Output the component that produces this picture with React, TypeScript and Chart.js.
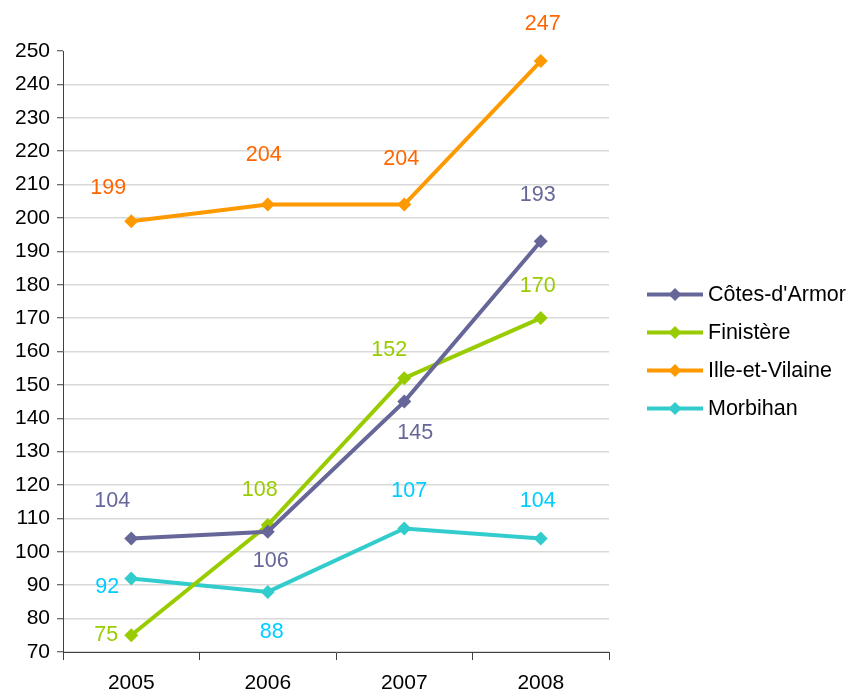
import React, { useEffect, useRef } from "react";
import { Chart, registerables } from "chart.js";

Chart.register(...registerables);

const YEARS = ["2005", "2006", "2007", "2008"];
const COTES_DARMOR = [104, 106, 145, 193];
const FINISTERE = [75, 108, 152, 170];
const ILLE_ET_VILAINE = [199, 204, 204, 247];
const MORBIHAN = [92, 88, 107, 104];
const SERIES_NAMES = ["Côtes-d'Armor", "Finistère", "Ille-et-Vilaine", "Morbihan"];
const Y_MIN = 70;
const Y_MAX = 250;
const Y_STEP = 10;

// style
const LINE_COLORS = ["#666699", "#99CC00", "#FF9900", "#33CCCC"];
const LABEL_COLORS = ["#666699", "#99CC00", "#FF6600", "#00CCFF"];
// label offsets relative to point (px) per series / point
const LABEL_OFFSETS: number[][][] = [
  [[-19, -37], [3, 29], [11, 31], [-3, -46]],
  [[-25, 0], [-8, -35], [-15, -28], [-3, -32]],
  [[-23, -33], [-4, -50], [-3, -46], [2, -37]],
  [[-24, 9], [4, 40], [5, -37], [-3, -37]],
];
const FONT = "'Liberation Sans', Arial, sans-serif";

const labelsPlugin = {
  id: "pointLabels",
  afterDatasetsDraw(chart: any) {
    const ctx = chart.ctx;
    ctx.save();
    ctx.font = `21.5px ${FONT}`;
    ctx.textAlign = "center";
    ctx.textBaseline = "middle";
    chart.data.datasets.forEach((ds: any, i: number) => {
      const meta = chart.getDatasetMeta(i);
      meta.data.forEach((pt: any, j: number) => {
        const off = LABEL_OFFSETS[i][j];
        ctx.fillStyle = LABEL_COLORS[i];
        ctx.fillText(String(ds.data[j]), pt.x + off[0], pt.y + off[1]);
      });
    });
    ctx.restore();
  },
};

const legendPlugin = {
  id: "customLegend",
  afterDraw(chart: any) {
    const ctx = chart.ctx;
    const area = chart.chartArea;
    const n = chart.data.datasets.length;
    const rowH = 38;
    const cy = (area.top + area.bottom) / 2;
    const startY = cy - ((n - 1) * rowH) / 2;
    const x0 = area.right + 38;
    const lineLen = 56;
    ctx.save();
    ctx.font = `21.5px ${FONT}`;
    ctx.textBaseline = "middle";
    ctx.textAlign = "left";
    chart.data.datasets.forEach((ds: any, i: number) => {
      const y = startY + i * rowH;
      ctx.strokeStyle = ds.borderColor;
      ctx.lineWidth = 4;
      ctx.beginPath();
      ctx.moveTo(x0, y);
      ctx.lineTo(x0 + lineLen, y);
      ctx.stroke();
      const mx = x0 + lineLen / 2;
      const r = 6.5;
      ctx.fillStyle = ds.borderColor;
      ctx.beginPath();
      ctx.moveTo(mx, y - r);
      ctx.lineTo(mx + r, y);
      ctx.lineTo(mx, y + r);
      ctx.lineTo(mx - r, y);
      ctx.closePath();
      ctx.fill();
      ctx.fillStyle = "#000000";
      ctx.fillText(ds.label, x0 + lineLen + 5, y + 1);
    });
    ctx.restore();
  },
};

export default function App() {
  const ref = useRef<HTMLCanvasElement | null>(null);
  useEffect(() => {
    if (!ref.current) return;
    const allSeries = [COTES_DARMOR, FINISTERE, ILLE_ET_VILAINE, MORBIHAN];
    const chart = new Chart(ref.current, {
      type: "line",
      data: {
        labels: YEARS,
        datasets: allSeries.map((d, i) => ({
          label: SERIES_NAMES[i],
          data: d,
          borderColor: LINE_COLORS[i],
          backgroundColor: LINE_COLORS[i],
          borderWidth: 4,
          pointStyle: "rectRot",
          pointRadius: 7,
          pointBorderWidth: 0,
          pointBackgroundColor: LINE_COLORS[i],
          tension: 0,
          fill: false,
        })),
      },
      options: {
        animation: false,
        responsive: false,
        layout: { padding: { top: 51, right: 241, left: 0, bottom: 0 } },
        plugins: {
          legend: { display: false },
          tooltip: { enabled: false },
        },
        scales: {
          x: {
            offset: true,
            grid: {
              offset: true,
              drawOnChartArea: false,
              drawTicks: true,
              tickLength: 8,
              tickColor: "#404040",
              tickWidth: 1,
            },
            border: { color: "#404040", width: 1 },
            ticks: {
              color: "#000000",
              font: { family: FONT, size: 21 },
              padding: 11,
              maxRotation: 0,
            },
            afterFit(scale: any) {
              scale.height = 39;
            },
          },
          y: {
            min: Y_MIN,
            max: Y_MAX,
            grid: {
              color: (c: any) => (c.tick && c.tick.value === Y_MAX ? "rgba(0,0,0,0)" : "#D9D9D9"),
              lineWidth: 1.5,
              drawTicks: true,
              tickLength: 6,
              tickColor: "#404040",
              tickWidth: 1,
            },
            border: { color: "#404040", width: 1 },
            ticks: {
              stepSize: Y_STEP,
              color: "#000000",
              font: { family: FONT, size: 21 },
              padding: 7,
            },
            afterFit(scale: any) {
              scale.width = 63;
            },
          },
        },
      },
      plugins: [labelsPlugin, legendPlugin],
    });
    return () => chart.destroy();
  }, []);
  return (
    <div style={{ position: "absolute", left: 0, top: 0, width: 850, height: 691, background: "#ffffff" }}>
      <canvas ref={ref} width={850} height={691} style={{ width: 850, height: 691 }} />
    </div>
  );
}
